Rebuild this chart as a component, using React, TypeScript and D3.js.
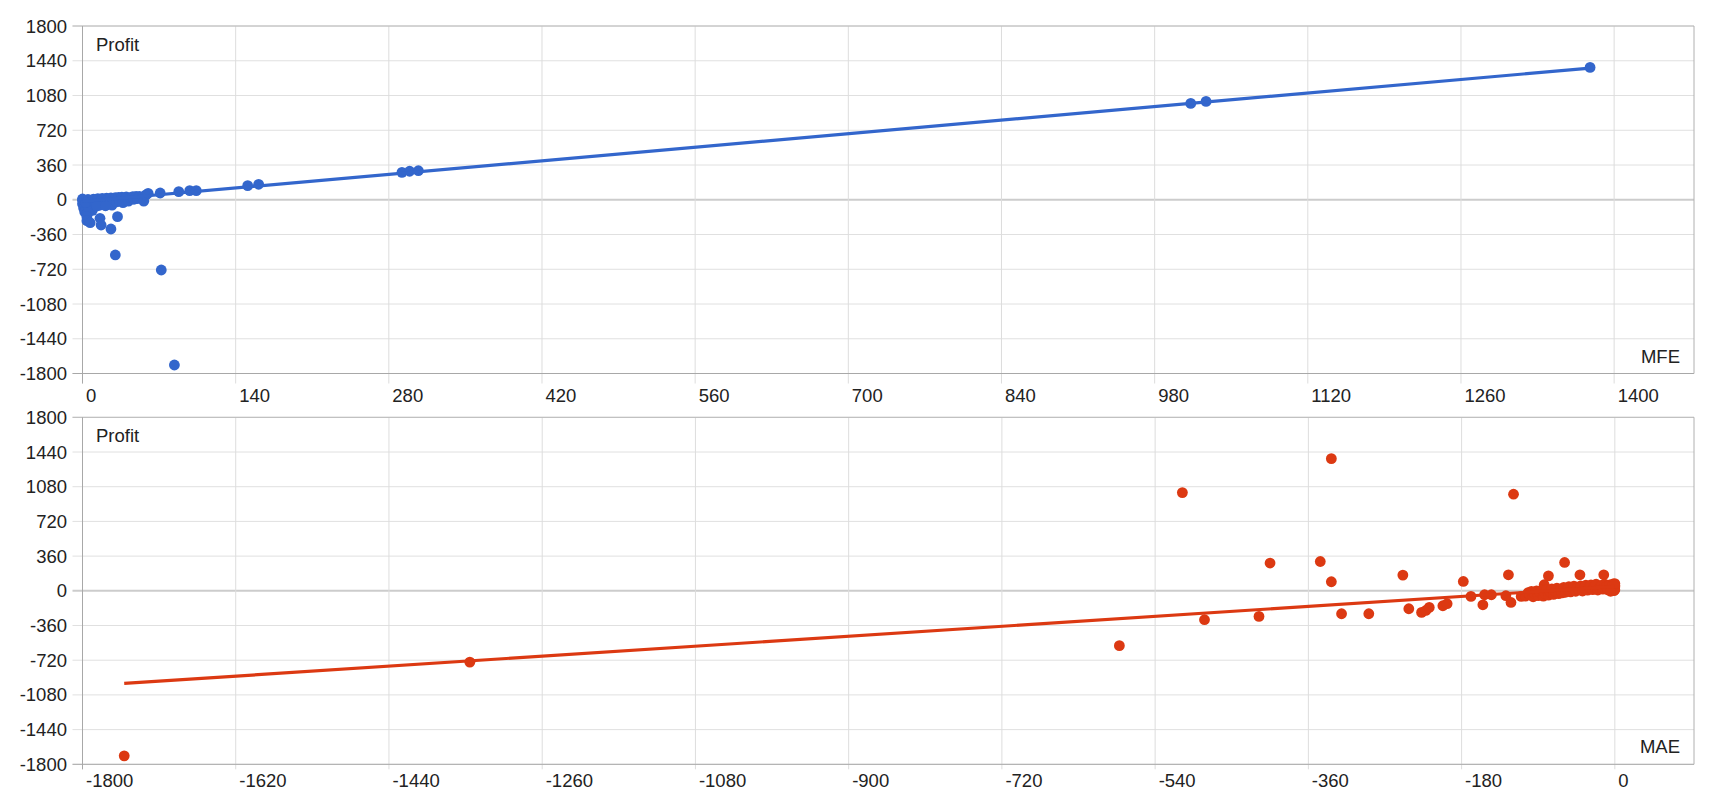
import React from "react";
import * as d3 from "d3";

// ---------- DATA ----------
const yTicks = [-1800, -1440, -1080, -720, -360, 0, 360, 720, 1080, 1440, 1800];
const mfeTicks = [0, 140, 280, 420, 560, 700, 840, 980, 1120, 1260, 1400];
const maeTicks = [-1800, -1620, -1440, -1260, -1080, -900, -720, -540, -360, -180, 0];

// [MFE, Profit]
const mfeVsProfit: [number, number][] = [
  [0, -5], [1, -22], [0, -42], [2, -62], [1, -85], [3, -105], [2, -125], [4, -12], [5, 3], [6, -32],
  [7, -52], [8, -75], [4, -150], [6, -95], [0, 8], [3, -30], [9, -110], [5, -135],
  [10, 5], [11, -20], [12, -42], [14, 12], [15, -58], [17, -8], [18, 14], [19, -30], [20, -50], [22, 17],
  [23, -5], [24, -38], [26, 20], [27, -55], [28, 2], [30, 22], [31, -22], [13, -65], [21, -62],
  [33, 24], [34, -8], [36, 27], [37, -30], [39, 10], [40, 30], [42, -15], [44, 22], [46, 32], [47, 5],
  [49, 34], [50, 12], [52, 36], [54, 22],
  [4, -175], [4, -217], [7, -238], [16, -192], [17, -262], [26, -303], [32, -175], [30, -572], [72, -728], [84, -1712],
  [56, -15], [58, 51], [60, 67], [71, 70], [88, 84], [98, 94], [104, 94], [151, 146], [161, 160],
  [292, 284], [299, 295], [307, 301], [1013, 998], [1027, 1019], [1378, 1371],
];

// [MAE, Profit]
const maeVsProfit: [number, number][] = [
  [-1751, -1712], [-1345, -740], [-582, -569], [-508, 1019], [-482, -300], [-418, -266], [-405, 288],
  [-346, 304], [-333, 1371], [-333, 94], [-321, -238], [-289, -238], [-249, 163], [-242, -186],
  [-227, -224], [-222, -204], [-218, -172], [-202, -155], [-197, -134], [-178, 97], [-155, -145],
  [-125, 166], [-122, -121], [-119, 1002], [-83, 63], [-78, 155], [-59, 294], [-41, 166], [-13, 166],
  [-169, -58], [-153, -41], [-145, -41], [-128, -51], [-110, -58],
  [-105, -55], [-102, -20], [-100, -40], [-98, -5], [-96, -62], [-94, -30], [-92, 0], [-90, -50], [-88, -18], [-86, 8],
  [-84, -55], [-82, -28], [-80, 12], [-78, -45], [-76, -12], [-74, 20], [-72, -38], [-70, -5], [-68, 28], [-66, -30],
  [-64, 10], [-62, -22], [-60, 35], [-58, -15], [-56, 18], [-54, 42], [-52, -12], [-50, 25], [-48, 48], [-46, -5],
  [-44, 32], [-42, 10], [-40, 52], [-38, -2], [-36, 28], [-34, 58], [-32, 6], [-30, 38], [-28, 62], [-26, 12],
  [-24, 42], [-22, 68], [-20, 8], [-18, 32], [-16, 55], [-14, 18], [-12, 70], [-10, 40], [-8, 10], [-6, 60],
  [-4, 28], [-2, 72], [0, 42], [0, 12], [0, 55], [-1, 2], [-3, 48], [0, 75], [-5, -5],
];

// trend lines: profit = slope * x + intercept
const mfeTrend = { slope: 1.003, intercept: -18 };
const maeTrend = { slope: 0.574, intercept: 45 };

// ---------- LAYOUT ----------
const W = 1720;
const H = 800;
const FONT = "'Liberation Sans', Arial, sans-serif";
const FS = 18.5;
const R = 5.4;

type PanelProps = {
  top: number;
  bottom: number;
  xDomain: [number, number];
  xTicks: number[];
  data: [number, number][];
  trend: { slope: number; intercept: number };
  color: string;
  xTitle: string;
  tickExt: number;
  labelOffset: number;
};

const LEFT = 82.5;
const RIGHT = 1694;

function Panel(p: PanelProps) {
  const x = d3.scaleLinear().domain(p.xDomain).range([LEFT, RIGHT]);
  const y = d3.scaleLinear().domain([-1800, 1800]).range([p.bottom, p.top]);
  const xs = p.data.map((d) => d[0]);
  const [x0, x1] = d3.extent(xs) as [number, number];
  const line = d3
    .line<number>()
    .x((v) => x(v))
    .y((v) => y(p.trend.slope * v + p.trend.intercept));
  return (
    <g>
      {yTicks.map((t) => (
        <line
          key={"h" + t}
          x1={LEFT - 10}
          x2={RIGHT}
          y1={y(t)}
          y2={y(t)}
          stroke={t === 0 ? "#cccccc" : "#e0e0e0"}
          strokeWidth={t === 0 ? 2 : 1}
        />
      ))}
      {p.xTicks.map((t) => (
        <line
          key={"v" + t}
          x1={x(t)}
          x2={x(t)}
          y1={p.top}
          y2={p.bottom + p.tickExt}
          stroke="#dddddd"
          strokeWidth={1}
        />
      ))}
      <line x1={LEFT - 10} x2={RIGHT} y1={p.top} y2={p.top} stroke="#b8b8b8" />
      <line x1={LEFT - 10} x2={RIGHT} y1={p.bottom} y2={p.bottom} stroke="#a8a8a8" />
      <line x1={LEFT} x2={LEFT} y1={p.top} y2={p.bottom + p.tickExt} stroke="#a8a8a8" />
      <line x1={RIGHT} x2={RIGHT} y1={p.top} y2={p.bottom} stroke="#b0b0b0" />
      {yTicks.map((t) => (
        <text
          key={"yl" + t}
          x={67}
          y={y(t) + FS * 0.355}
          textAnchor="end"
          fontFamily={FONT}
          fontSize={FS}
          fill="#222"
        >
          {t}
        </text>
      ))}
      {p.xTicks.map((t) => (
        <text
          key={"xl" + t}
          x={x(t) + 3.5}
          y={p.bottom + p.labelOffset}
          textAnchor="start"
          fontFamily={FONT}
          fontSize={FS}
          fill="#222"
        >
          {t}
        </text>
      ))}
      {p.data.map((d, i) => (
        <circle key={i} cx={x(d[0])} cy={y(d[1])} r={R} fill={p.color} />
      ))}
      <path d={line([x0, x1]) || ""} stroke={p.color} strokeWidth={3.2} fill="none" />
      <text x={96} y={p.top + 24.5} fontFamily={FONT} fontSize={FS} fill="#222">
        Profit
      </text>
      <text
        x={1680}
        y={p.bottom - 11}
        textAnchor="end"
        fontFamily={FONT}
        fontSize={FS}
        fill="#222"
      >
        {p.xTitle}
      </text>
    </g>
  );
}

export default function App() {
  return (
    <svg
      width={W}
      height={H}
      style={{ position: "absolute", left: 0, top: 0, background: "#fff" }}
    >
      <rect x={0} y={0} width={W} height={H} fill="#fff" />
      <Panel
        top={26}
        bottom={373.5}
        xDomain={[0, 1473]}
        xTicks={mfeTicks}
        data={mfeVsProfit}
        trend={mfeTrend}
        color="#3366cc"
        xTitle="MFE"
        tickExt={10}
        labelOffset={28}
      />
      <Panel
        top={417.3}
        bottom={764.3}
        xDomain={[-1800, 93]}
        xTicks={maeTicks}
        data={maeVsProfit}
        trend={maeTrend}
        color="#dc3912"
        xTitle="MAE"
        tickExt={5}
        labelOffset={22.5}
      />
    </svg>
  );
}
